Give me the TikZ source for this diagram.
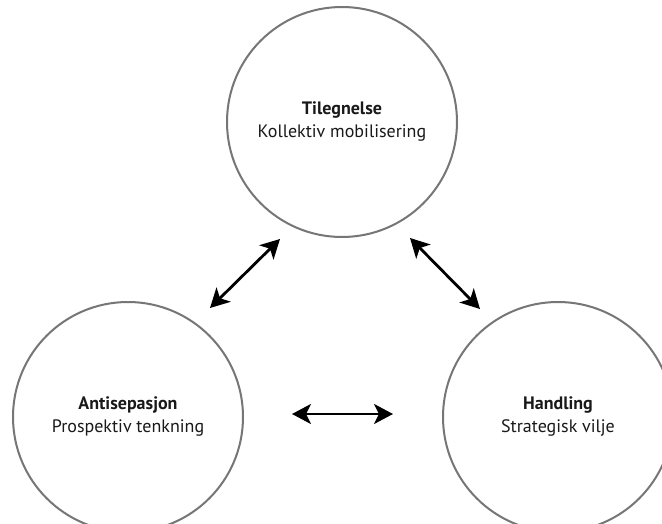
\documentclass[tikz,border=0pt]{standalone}
\usepackage{fontspec}
\setmainfont{PT Sans}
\usetikzlibrary{arrows.meta}
\definecolor{ringgray}{RGB}{118,118,118}
\definecolor{inkdark}{RGB}{25,25,25}
\tikzset{
  ring/.style={circle, draw=ringgray, line width=2pt, minimum size=230pt, inner sep=0pt,
    align=center, text=inkdark, font=\fontsize{18}{23}\selectfont},
  link/.style={line width=2.8pt, arrows={Stealth[length=19pt,width=20pt,inset=5pt]-Stealth[length=19pt,width=20pt,inset=5pt]}}
}
\begin{document}
\begin{tikzpicture}[x=1pt,y=-1pt]
  \useasboundingbox (0,0) rectangle (662,524);
  \fill[white] (0,0) rectangle (662,524);
  % three concept rings
  \node[ring] (tile) at (342,122) {\textbf{Tilegnelse}\\Kollektiv mobilisering};
  \node[ring] (anti) at (128,417) {\textbf{Antisepasjon}\\Prospektiv tenkning};
  \node[ring] (hand) at (558,417) {\textbf{Handling}\\Strategisk vilje};
  % arrow end points between the rings
  \coordinate (a1) at (210,308);
  \coordinate (a2) at (280,239);
  \coordinate (b1) at (410,238);
  \coordinate (b2) at (480,309);
  \coordinate (c1) at (292,414);
  \coordinate (c2) at (393,414);
  \draw[link] (a1) -- (a2);
  \draw[link] (b1) -- (b2);
  \draw[link] (c1) -- (c2);
\end{tikzpicture}
\end{document}
